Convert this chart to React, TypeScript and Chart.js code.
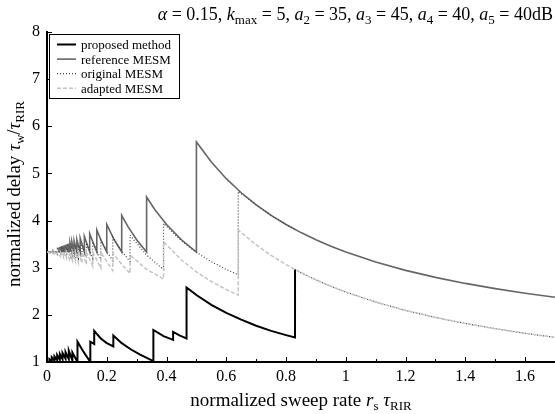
import React, { useEffect, useRef } from 'react';
import { Chart, registerables } from 'chart.js';

Chart.register(...registerables);

const FAMILY = '"Liberation Serif", "DejaVu Serif", serif';

const xTicks = [0, 0.2, 0.4, 0.6, 0.8, 1, 1.2, 1.4, 1.6];
const xTickLabels = ['0', '0.2', '0.4', '0.6', '0.8', '1', '1.2', '1.4', '1.6'];
const xMinorTicks = [0.1, 0.3, 0.5, 0.7, 0.9, 1.1, 1.3, 1.5, 1.7];
const yTicks = [1, 2, 3, 4, 5, 6, 7, 8];
const yTickLabels = ['1', '2', '3', '4', '5', '6', '7', '8'];

const seriesNames = ['proposed method', 'reference MESM', 'original MESM', 'adapted MESM'];

// proposed method (black solid)
const propR = [0, 0.008, 0.008, 0.016, 0.016, 0.025, 0.025, 0.034, 0.034, 0.043, 0.043, 0.052, 0.052, 0.062, 0.062, 0.073, 0.073, 0.085, 0.085, 0.102, 0.102, 0.12, 0.145, 0.145, 0.158, 0.158, 0.18, 0.2, 0.222, 0.222, 0.25, 0.28, 0.31, 0.356, 0.356, 0.39, 0.422, 0.422, 0.445, 0.467, 0.467, 0.5, 0.55, 0.6, 0.65, 0.7, 0.75, 0.8, 0.83, 0.83];
const propV = [1.0, 1.0, 1.06, 1.02, 1.1, 1.03, 1.12, 1.04, 1.15, 1.05, 1.17, 1.06, 1.19, 1.07, 1.21, 1.06, 1.24, 1.03, 1.2, 1.0, 1.43, 1.24, 1.0, 1.43, 1.38, 1.66, 1.5, 1.4, 1.33, 1.56, 1.4, 1.27, 1.16, 1.02, 1.68, 1.55, 1.47, 1.64, 1.56, 1.5, 2.58, 2.42, 2.21, 2.04, 1.9, 1.77, 1.66, 1.57, 1.52, 2.96];

// reference MESM (gray solid)
const refR = [0, 0.04, 0.04, 0.04167, 0.04167, 0.04348, 0.04348, 0.04545, 0.04545, 0.04762, 0.04762, 0.05, 0.05, 0.05263, 0.05263, 0.05556, 0.05556, 0.05882, 0.05882, 0.0625, 0.0625, 0.06667, 0.06667, 0.07143, 0.07143, 0.07692, 0.07692, 0.08333, 0.08333, 0.0909, 0.0909, 0.1, 0.1, 0.1111, 0.1111, 0.125, 0.125, 0.1429, 0.1429, 0.1667, 0.1667, 0.183, 0.2, 0.2, 0.225, 0.25, 0.25, 0.27, 0.3, 0.3333, 0.3333, 0.36, 0.4, 0.45, 0.5, 0.5, 0.55, 0.6, 0.65, 0.7, 0.75, 0.8, 0.85, 0.9, 0.95, 1.0, 1.1, 1.2, 1.3, 1.4, 1.5, 1.6, 1.7];
const refV = [3.333, 3.333, 3.431, 3.333, 3.435, 3.333, 3.439, 3.333, 3.444, 3.333, 3.45, 3.333, 3.456, 3.333, 3.463, 3.333, 3.471, 3.333, 3.479, 3.333, 3.489, 3.333, 3.5, 3.333, 3.513, 3.333, 3.528, 3.333, 3.545, 3.333, 3.567, 3.333, 3.593, 3.333, 3.625, 3.333, 3.667, 3.333, 3.722, 3.333, 3.8, 3.55, 3.333, 3.917, 3.593, 3.333, 4.111, 3.881, 3.593, 3.333, 4.5, 4.241, 3.917, 3.593, 3.333, 5.667, 5.242, 4.889, 4.59, 4.333, 4.111, 3.917, 3.745, 3.593, 3.456, 3.333, 3.121, 2.944, 2.795, 2.667, 2.556, 2.458, 2.373];

// original MESM (dotted)
const origR = [0, 0.02, 0.02, 0.035, 0.035, 0.05, 0.05, 0.065, 0.065, 0.08, 0.08, 0.095, 0.095, 0.105, 0.105, 0.117, 0.117, 0.132, 0.132, 0.153, 0.153, 0.18, 0.18, 0.2, 0.22, 0.22, 0.25, 0.278, 0.278, 0.333, 0.39, 0.39, 0.45, 0.5, 0.55, 0.6, 0.64, 0.64, 0.7, 0.75, 0.8, 0.83, 0.83, 0.83, 0.85, 0.9, 0.95, 1.0, 1.1, 1.2, 1.3, 1.4, 1.5, 1.6, 1.7];
const origV = [3.333, 3.3, 3.37, 3.28, 3.4, 3.26, 3.42, 3.24, 3.43, 3.22, 3.45, 3.2, 3.456, 3.195, 3.47, 3.232, 3.49, 3.224, 3.525, 3.199, 3.54, 3.18, 3.593, 3.35, 3.149, 3.65, 3.35, 3.13, 3.69, 3.27, 2.96, 3.94, 3.568, 3.326, 3.128, 2.963, 2.85, 4.62, 4.333, 4.111, 3.917, 3.81, null, 2.96, 2.895, 2.742, 2.606, 2.483, 2.271, 2.094, 1.945, 1.817, 1.706, 1.608, 1.522];

// adapted MESM (light dashed)
const adapR = [0, 0.015, 0.015, 0.025, 0.025, 0.035, 0.035, 0.045, 0.045, 0.055, 0.055, 0.065, 0.065, 0.075, 0.075, 0.085, 0.085, 0.095, 0.095, 0.105, 0.105, 0.117, 0.117, 0.132, 0.132, 0.153, 0.153, 0.18, 0.18, 0.2, 0.22, 0.22, 0.25, 0.278, 0.278, 0.33, 0.39, 0.39, 0.45, 0.5, 0.55, 0.6, 0.64, 0.64, 0.7, 0.75, 0.8, 0.85, 0.9, 0.95, 1.0, 1.1, 1.2, 1.3, 1.4, 1.5, 1.6, 1.7];
const adapV = [3.333, 3.3, 3.333, 3.28, 3.333, 3.26, 3.333, 3.24, 3.333, 3.22, 3.333, 3.2, 3.333, 3.18, 3.333, 3.16, 3.333, 3.14, 3.333, 3.12, 3.333, 3.1, 3.333, 3.07, 3.333, 3.03, 3.333, 2.99, 3.333, 3.13, 2.94, 3.31, 3.07, 2.88, 3.27, 2.98, 2.76, 3.55, 3.164, 2.913, 2.708, 2.537, 2.42, 3.8, 3.483, 3.261, 3.066, 2.895, 2.742, 2.606, 2.483, 2.271, 2.094, 1.945, 1.817, 1.706, 1.608, 1.522];

const seriesStyles = [
  { color: '#000000', width: 2, dash: [] as number[] },
  { color: '#666666', width: 1.6, dash: [] as number[] },
  { color: '#444444', width: 1.2, dash: [1, 2] },
  { color: '#c4c4c4', width: 1.5, dash: [4, 2] },
];

type Run = [string, string];

function drawRich(ctx: CanvasRenderingContext2D, runs: Run[], x: number, y: number, size: number, align: string) {
  const fontFor = (st: string) =>
    (st.includes('i') ? 'italic ' : '') + (st.includes('s') ? Math.round(size * 0.7) : size) + 'px ' + FAMILY;
  let total = 0;
  const widths: number[] = [];
  for (const [t, st] of runs) {
    ctx.font = fontFor(st);
    const w = ctx.measureText(t).width;
    widths.push(w);
    total += w;
  }
  let cx = align === 'right' ? x - total : align === 'center' ? x - total / 2 : x;
  ctx.textBaseline = 'alphabetic';
  ctx.textAlign = 'left';
  runs.forEach(([t, st], i) => {
    ctx.font = fontFor(st);
    ctx.fillText(t, cx, st.includes('s') ? y + size * 0.22 : y);
    cx += widths[i];
  });
}

const titleRuns: Run[] = [
  ['α', 'i'], [' = 0.15, ', 'n'], ['k', 'i'], ['max', 's'], [' = 5, ', 'n'],
  ['a', 'i'], ['2', 's'], [' = 35, ', 'n'], ['a', 'i'], ['3', 's'], [' = 45, ', 'n'],
  ['a', 'i'], ['4', 's'], [' = 40, ', 'n'], ['a', 'i'], ['5', 's'], [' = 40dB', 'n'],
];
const xTitleRuns: Run[] = [['normalized sweep rate ', 'n'], ['r', 'i'], ['s', 's'], [' ', 'n'], ['τ', 'i'], ['RIR', 's']];
const yTitleRuns: Run[] = [['normalized delay ', 'n'], ['τ', 'i'], ['w', 's'], ['/', 'n'], ['τ', 'i'], ['RIR', 's']];

const decorPlugin = {
  id: 'decor',
  afterDraw(chart: any) {
    const ctx: CanvasRenderingContext2D = chart.ctx;
    const { x, y } = chart.scales;
    const area = chart.chartArea;
    ctx.save();
    ctx.strokeStyle = '#000';
    ctx.lineWidth = 1;
    for (const v of xTicks) {
      const px = Math.round(x.getPixelForValue(v)) + 0.5;
      ctx.beginPath(); ctx.moveTo(px, area.bottom); ctx.lineTo(px, area.bottom - 5); ctx.stroke();
    }
    for (const v of xMinorTicks) {
      const px = Math.round(x.getPixelForValue(v)) + 0.5;
      ctx.beginPath(); ctx.moveTo(px, area.bottom); ctx.lineTo(px, area.bottom - 3); ctx.stroke();
    }
    for (const v of yTicks) {
      const py = Math.round(y.getPixelForValue(v)) + 0.5;
      ctx.beginPath(); ctx.moveTo(area.left, py); ctx.lineTo(area.left + 5, py); ctx.stroke();
    }
    ctx.fillStyle = '#000';
    drawRich(ctx, titleRuns, 553, 20, 18, 'right');
    drawRich(ctx, xTitleRuns, (area.left + area.right) / 2, 406, 19, 'center');
    ctx.save();
    ctx.translate(20, 194);
    ctx.rotate(-Math.PI / 2);
    drawRich(ctx, yTitleRuns, 0, 0, 19, 'center');
    ctx.restore();
    const bx = 49.5, by = 34.5, bw = 130, bh = 64;
    ctx.fillStyle = '#fff';
    ctx.fillRect(bx, by, bw, bh);
    ctx.strokeStyle = '#000';
    ctx.lineWidth = 1;
    ctx.strokeRect(bx, by, bw, bh);
    seriesNames.forEach((name, i) => {
      const cy = by + 10 + i * 14.6;
      const st = seriesStyles[i];
      ctx.strokeStyle = st.color;
      ctx.lineWidth = st.width;
      ctx.setLineDash(st.dash);
      ctx.beginPath(); ctx.moveTo(57, cy); ctx.lineTo(76, cy); ctx.stroke();
      ctx.setLineDash([]);
      ctx.fillStyle = '#000';
      ctx.font = '13px ' + FAMILY;
      ctx.textBaseline = 'middle';
      ctx.textAlign = 'left';
      ctx.fillText(name, 81, cy + 1);
    });
    ctx.restore();
  },
};

const toPts = (r: number[], v: (number | null)[]) => r.map((xv, i) => ({ x: xv, y: v[i] }));

export default function App() {
  const ref = useRef<HTMLCanvasElement | null>(null);
  useEffect(() => {
    if (!ref.current) return;
    const data = [toPts(propR, propV), toPts(refR, refV), toPts(origR, origV), toPts(adapR, adapV)];
    const orders = [3, 2, 1, 0];
    const chart = new Chart(ref.current, {
      type: 'line',
      data: {
        datasets: data.map((d, i) => ({
          label: seriesNames[i],
          data: d as any,
          borderColor: seriesStyles[i].color,
          borderWidth: seriesStyles[i].width,
          borderDash: seriesStyles[i].dash,
          pointRadius: 0,
          fill: false,
          tension: 0,
          spanGaps: false,
          order: orders[i],
        })),
      },
      options: {
        responsive: false,
        animation: false,
        devicePixelRatio: 1,
        layout: { padding: { top: 32, right: 0, left: 0, bottom: 0 } },
        plugins: { legend: { display: false }, tooltip: { enabled: false }, title: { display: false } },
        scales: {
          x: {
            type: 'linear',
            min: 0,
            max: 1.7,
            afterFit: (s: any) => { s.height = 52; },
            afterBuildTicks: (s: any) => { s.ticks = xTicks.map((v) => ({ value: v })); },
            ticks: {
              callback: (_v: any, i: number) => xTickLabels[i],
              font: { family: FAMILY, size: 16 },
              color: '#000',
              padding: 5,
              maxRotation: 0,
              autoSkip: false,
              includeBounds: false,
            },
            grid: { display: false, drawTicks: false },
            border: { display: true, color: '#000', width: 2 },
          },
          y: {
            type: 'linear',
            min: 1,
            max: 8,
            afterFit: (s: any) => { s.width = 47; },
            afterBuildTicks: (s: any) => { s.ticks = yTicks.map((v) => ({ value: v })); },
            ticks: {
              callback: (_v: any, i: number) => yTickLabels[i],
              font: { family: FAMILY, size: 16 },
              color: '#000',
              padding: 7,
              autoSkip: false,
            },
            grid: { display: false, drawTicks: false },
            border: { display: true, color: '#000', width: 2 },
          },
        },
      } as any,
      plugins: [decorPlugin],
    });
    return () => chart.destroy();
  }, []);
  return (
    <div style={{ position: 'fixed', left: 0, top: 0, width: 555, height: 414, background: '#fff' }}>
      <canvas ref={ref} width={555} height={414} style={{ display: 'block' }} />
    </div>
  );
}
